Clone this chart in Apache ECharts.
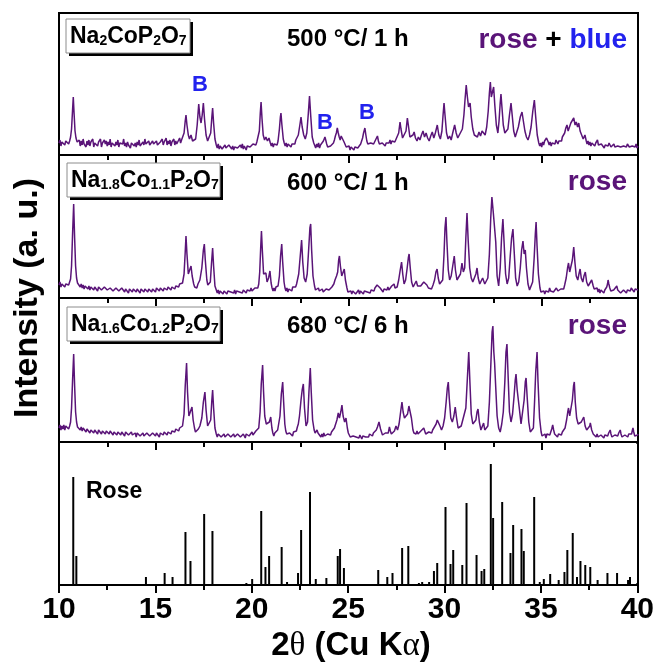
<!DOCTYPE html>
<html>
<head>
<meta charset="utf-8">
<script src="https://cdn.jsdelivr.net/npm/echarts@6/dist/echarts.min.js"></script>
<style>html,body{margin:0;padding:0;background:#fff;}#c{width:657px;height:667px;}</style>
</head>
<body>
<div id="c"></div>
<script>
// 2θ (deg), intensity (a.u.) pairs, flat: x,y,x,y,...
const pattern500 = [10.0,12,10.05,15,10.1,9,10.15,13,10.2,11,10.25,15,10.3,10,10.35,14,10.4,12,10.45,16,10.5,11,10.55,14,10.6,18,10.65,26,10.7,44,10.74,58,10.78,42,10.83,24,10.88,17,10.94,13,
11.0,12,11.05,15,11.1,9,11.15,14,11.2,10,11.25,16,11.3,11,11.35,13,11.4,8,11.45,14,11.5,10,11.55,15,11.6,9,11.65,13,11.7,11,11.75,16,11.8,8,11.85,12,11.9,10,11.95,14,12.0,9,12.05,13,12.1,11,12.15,16,12.2,8,12.25,12,12.3,10,12.35,15,12.4,11,12.45,14,12.5,9,12.55,13,12.6,10,12.65,16,12.7,8,12.75,12,12.8,11,12.85,14,12.9,9,12.95,13,13.0,10,13.05,15,13.1,8,13.15,12,13.2,10,13.25,14,13.3,11,13.35,16,13.4,9,13.45,12,13.5,8,13.55,13,13.6,10,13.65,11,13.7,7,13.75,12,13.8,10,13.85,14,13.9,9,13.95,12,14.0,8,14.05,13,14.1,10,14.15,15,14.2,9,14.25,11,14.3,8,14.35,13,14.4,10,14.45,16,14.5,11,14.55,13,14.6,9,14.65,14,14.7,10,14.75,12,14.8,8,14.85,14,14.9,11,14.95,13,15.0,9,15.05,14,15.1,10,15.15,12,15.2,8,15.25,13,15.3,11,15.35,16,15.4,10,15.45,13,15.5,12,15.55,17,15.6,10,15.65,14,15.7,11,15.75,15,15.8,9,15.85,13,15.9,12,15.95,16,16.0,10,16.05,14,16.1,11,16.15,13,16.2,12,16.25,17,16.3,12,16.35,15,16.4,16,
16.48,22,16.54,34,16.58,40,16.63,30,16.7,20,16.76,16,16.84,20,16.92,14,17.0,12,17.08,16,17.16,30,17.24,51,17.3,38,17.36,32,17.42,40,17.48,52,17.54,36,17.62,20,17.7,14,17.78,12,17.86,22,17.92,38,17.96,47,18.01,32,18.08,16,
18.15,10,18.2,7,18.25,11,18.3,6,18.35,9,18.4,11,18.45,6,18.5,8,18.55,5,18.6,10,18.65,7,18.7,9,18.75,5,18.8,10,18.85,8,18.9,11,18.95,6,19.0,9,19.05,5,19.1,8,19.15,6,19.2,10,19.25,7,19.3,9,19.35,5,19.4,10,19.45,7,19.5,11,19.55,6,19.6,9,19.65,7,19.7,5,19.75,9,19.8,7,19.85,11,19.9,8,19.95,10,20.0,7,20.05,11,20.1,9,20.15,12,20.2,10,20.25,13,20.3,14,
20.38,24,20.43,42,20.47,53,20.52,36,20.58,20,20.65,15,20.72,18,20.8,14,20.88,17,20.95,12,21.0,9,21.05,12,21.1,8,21.15,11,21.2,9,21.25,12,21.3,10,21.35,14,21.42,26,21.47,38,21.5,42,21.55,30,21.62,16,21.67,12,21.72,9,21.77,12,21.82,8,21.87,11,21.92,9,21.97,12,22.02,8,22.07,11,22.12,9,22.17,13,22.22,11,22.27,15,22.32,14,22.4,20,22.48,30,22.54,38,22.6,28,22.68,20,22.76,16,22.84,22,22.92,42,22.98,59,23.04,40,23.12,18,23.2,12,
23.25,10,23.3,7,23.35,11,23.4,8,23.45,12,23.5,7,23.55,10,23.6,9,23.65,12,23.7,14,23.74,16,23.78,18,23.82,15,23.87,11,23.92,8,23.97,10,24.02,6,24.07,9,24.12,7,24.17,11,24.22,12,24.27,15,24.32,19,24.37,22,24.42,27,24.47,22,24.52,18,24.57,15,24.62,19,24.67,21,24.72,17,24.77,13,24.82,11,24.88,8,24.93,10,24.98,6,25.03,9,25.08,5,25.13,8,25.18,6,25.23,9,25.28,5,25.33,8,25.38,6,25.43,10,25.48,7,25.53,9,25.58,8,25.63,11,25.68,13,25.73,17,25.78,22,25.85,27,25.9,20,25.95,14,26.0,11,26.05,13,26.1,9,26.15,12,26.2,10,26.25,14,26.3,11,26.35,13,26.4,15,26.45,17,26.5,19,26.55,14,26.6,11,26.65,13,26.7,9,26.75,12,26.8,10,26.85,13,26.9,9,26.95,12,27.0,14,27.05,10,27.1,12,27.15,15,27.2,11,27.25,14,27.3,12,27.35,16,27.4,13,27.45,15,27.5,12,
27.6,22,27.67,33,27.72,26,27.8,17,27.9,15,27.98,24,28.05,37,28.1,30,28.18,18,28.26,16,28.34,20,28.4,23,28.47,17,28.55,14,28.62,18,28.7,15,28.78,20,28.86,24,28.94,18,29.02,22,29.1,17,29.18,14,29.26,19,29.34,23,29.42,17,29.5,22,29.6,30,29.68,20,29.76,16,29.84,24,29.9,40,29.95,52,30.0,40,30.08,22,30.16,16,30.24,19,30.32,15,30.4,22,30.5,30,30.58,22,30.66,17,30.74,20,30.82,18,30.9,26,30.98,40,31.04,56,31.1,70,31.16,58,31.22,48,31.3,52,31.36,38,31.44,26,31.52,20,31.6,22,31.68,18,31.76,23,31.84,19,31.92,24,32.0,22,32.08,20,32.16,28,32.24,44,32.3,62,32.35,73,32.4,58,32.46,60,32.52,68,32.58,50,32.66,30,32.74,22,32.8,34,32.86,52,32.9,61,32.95,48,33.02,30,33.1,22,33.18,20,33.26,26,33.34,40,33.42,52,33.48,40,33.56,24,33.64,18,33.72,20,33.8,28,33.9,38,33.99,43,34.06,34,34.14,24,34.22,18,34.3,15,34.38,20,34.46,28,34.55,44,34.63,55,34.7,38,34.78,20,
34.86,12,34.91,9,34.96,12,35.01,8,35.06,13,35.11,10,35.16,14,35.21,12,35.26,17,35.3,18,35.35,13,35.4,10,35.45,13,35.5,9,35.55,12,35.6,10,35.65,14,35.7,11,35.75,15,35.8,13,35.85,11,35.9,14,35.95,12,36.0,16,36.04,14,36.08,18,
36.12,19,36.2,22,36.26,27,36.32,30,36.38,24,36.45,28,36.52,32,36.6,34,36.67,37,36.74,30,36.8,33,36.87,28,36.93,32,37.0,24,37.08,20,37.16,16,37.25,20,37.32,14,
37.36,11,37.41,14,37.46,10,37.51,13,37.56,9,37.61,12,37.66,10,37.71,14,37.76,9,37.81,12,37.86,11,37.9,15,37.95,10,38.0,12,38.05,8,38.1,11,38.15,9,38.2,12,38.25,7,38.3,10,38.35,8,38.4,11,38.45,9,38.5,12,38.55,13,38.6,8,38.65,10,38.7,7,38.75,11,38.8,8,38.85,10,38.9,6,38.95,9,39.0,7,39.05,11,39.1,8,39.15,10,39.2,6,39.25,9,39.3,7,39.35,10,39.4,8,39.45,11,39.5,12,39.55,8,39.6,10,39.65,6,39.7,9,39.75,7,39.8,10,39.85,8,39.9,11,39.95,7,40.0,9];

const pattern600 = [10.0,13,10.05,16,10.1,11,10.15,14,10.2,12,10.25,15,10.3,11,10.35,14,10.4,12,10.45,16,10.5,13,10.55,15,10.6,19,10.65,32,10.7,62,10.76,94,10.81,60,10.86,32,10.91,20,10.96,15,
11.0,13,11.05,15,11.1,11,11.15,14,11.2,10,11.25,13,11.3,9,11.35,12,11.4,10,11.45,14,11.5,9,11.55,12,11.6,8,11.65,11,11.7,10,11.75,13,11.8,8,11.85,11,11.9,9,11.95,12,12.0,7,12.05,11,12.1,9,12.15,13,12.2,8,12.25,10,12.3,7,12.35,11,12.4,9,12.45,12,12.5,8,12.55,10,12.6,6,12.65,10,12.7,8,12.75,11,12.8,7,12.85,9,12.9,6,12.95,10,13.0,8,13.05,11,13.1,7,13.15,9,13.2,6,13.25,10,13.3,8,13.35,11,13.4,6,13.45,9,13.5,7,13.55,10,13.6,5,13.65,9,13.7,7,13.75,10,13.8,6,13.85,9,13.9,8,13.95,11,14.0,6,14.05,9,14.1,7,14.15,10,14.2,5,14.25,9,14.3,7,14.35,10,14.4,6,14.45,9,14.5,8,14.55,11,14.6,6,14.65,9,14.7,7,14.75,10,14.8,6,14.85,9,14.9,7,14.95,10,15.0,6,15.05,10,15.1,8,15.15,11,15.2,7,15.25,10,15.3,8,15.35,11,15.4,7,15.45,10,15.5,9,15.55,12,15.6,8,15.65,11,15.7,9,15.75,12,15.8,8,15.85,11,15.9,10,15.95,13,16.0,9,16.05,12,16.1,10,16.15,13,16.2,11,16.25,14,16.3,12,16.35,15,16.4,15,
16.48,24,16.54,46,16.58,62,16.63,44,16.7,24,16.78,26,16.84,32,16.9,22,16.98,14,17.03,11,17.08,13,17.14,10,17.2,14,17.3,18,17.4,30,17.48,48,17.53,54,17.58,38,17.66,18,17.71,13,17.75,11,17.8,14,17.84,16,17.9,34,17.96,50,18.01,32,18.08,12,
18.15,8,18.2,5,18.25,8,18.3,4,18.35,7,18.4,5,18.45,8,18.5,4,18.55,7,18.6,5,18.65,8,18.7,4,18.75,7,18.8,5,18.85,8,18.9,6,18.95,4,19.0,7,19.05,5,19.1,8,19.15,4,19.2,7,19.25,5,19.3,8,19.35,6,19.4,4,19.45,7,19.5,5,19.55,8,19.6,6,19.65,9,19.7,5,19.75,8,19.8,6,19.85,9,19.9,7,19.95,10,20.0,7,20.05,9,20.1,6,20.15,10,20.2,8,20.25,11,20.3,10,
20.35,14,20.4,26,20.45,50,20.49,67,20.54,46,20.6,24,20.66,22,20.72,25,20.78,16,20.86,20,20.93,27,20.99,15,21.04,10,21.09,7,21.14,10,21.19,7,21.24,11,21.29,9,21.35,12,21.42,22,21.48,42,21.54,54,21.59,36,21.66,16,21.71,10,21.76,7,21.81,10,21.86,6,21.91,9,21.96,7,22.01,10,22.06,7,22.11,11,22.16,9,22.21,12,22.26,11,22.31,14,22.36,16,22.42,24,22.5,42,22.57,58,22.63,36,22.7,20,22.78,16,22.86,24,22.94,50,23.0,70,23.04,74,23.09,48,23.16,22,
23.24,12,23.29,8,23.34,10,23.39,6,23.44,10,23.49,7,23.54,9,23.59,5,23.64,9,23.69,6,23.74,8,23.79,5,23.84,9,23.89,7,23.94,11,23.99,8,24.04,10,24.09,7,24.14,11,24.19,9,24.24,14,
24.3,18,24.38,22,24.44,26,24.49,38,24.53,42,24.58,32,24.65,22,24.72,24,24.78,29,24.84,18,
24.92,10,24.97,6,25.02,8,25.07,5,25.12,7,25.17,4,25.22,7,25.27,5,25.32,8,25.37,4,25.42,6,25.47,5,25.52,8,25.57,4,25.62,7,25.67,5,25.72,8,25.77,4,25.82,7,25.87,5,25.92,8,25.97,6,26.02,4,26.07,7,26.12,5,26.17,8,26.22,6,26.27,9,26.32,7,26.37,10,26.42,11,
26.48,13,26.56,15,26.64,10,26.69,8,26.74,10,26.79,6,26.84,9,26.89,7,26.94,10,26.99,8,27.04,11,27.09,8,27.14,10,27.19,9,27.24,12,27.3,12,27.36,14,27.41,10,27.46,12,27.52,11,27.6,18,27.68,28,27.75,36,27.81,24,27.88,14,27.96,18,28.04,30,28.1,40,28.14,44,28.2,30,28.27,16,28.35,11,28.43,13,28.51,17,28.58,12,28.66,10,28.74,12,28.82,14,28.9,16,28.98,18,29.06,13,29.14,10,29.22,12,29.3,9,29.38,13,29.46,18,29.53,26,29.59,29,29.65,20,29.72,14,29.8,12,29.88,18,29.95,44,30.0,70,30.05,81,30.1,56,30.17,28,30.24,18,30.32,22,30.4,32,30.48,42,30.54,28,30.62,18,30.7,16,30.8,24,30.88,35,30.95,26,31.02,30,31.08,60,31.14,85,31.2,58,31.28,30,31.36,20,31.44,16,31.52,18,31.6,24,31.66,30,31.72,20,31.8,14,31.88,16,31.95,20,32.0,20,32.06,14,32.14,12,32.22,20,32.3,44,32.37,80,32.43,101,32.5,86,32.57,88,32.63,56,32.7,22,32.78,12,32.86,30,32.93,60,33.0,79,33.06,56,33.14,24,33.22,14,33.3,20,33.38,42,33.45,60,33.52,69,33.58,48,33.66,20,33.74,12,33.82,16,33.9,30,33.97,48,34.04,57,34.1,44,34.16,48,34.22,30,34.3,14,34.38,8,34.46,10,34.54,16,34.62,40,34.68,64,34.72,76,34.77,52,34.84,24,
34.92,10,34.97,6,35.02,8,35.07,5,35.12,7,35.17,4,35.22,7,35.27,5,35.32,8,35.37,6,35.42,10,35.47,7,35.52,5,35.57,8,35.62,6,35.67,4,35.72,8,35.77,10,35.8,11,35.85,7,35.9,9,35.95,6,36.0,9,36.05,7,36.1,10,36.15,9,36.2,13,
36.28,20,36.35,30,36.4,35,36.46,26,36.52,24,36.6,38,36.67,51,36.73,36,36.8,22,36.88,18,36.94,24,37.0,29,37.06,20,37.14,16,37.2,22,37.27,26,37.34,16,37.42,12,37.5,14,37.6,18,
37.68,12,37.73,9,37.78,11,37.83,8,37.88,10,37.93,6,37.98,9,38.03,5,38.08,8,38.13,6,38.18,9,38.23,5,38.28,8,38.33,7,38.38,11,38.42,14,38.45,18,38.49,14,38.54,10,38.59,7,38.64,9,38.69,5,38.74,8,38.79,6,38.84,9,38.9,12,38.95,8,39.0,6,39.05,8,39.1,5,39.15,7,39.2,5,39.25,8,39.3,6,39.35,9,39.4,5,39.45,8,39.5,6,39.55,9,39.6,7,39.65,10,39.7,11,39.75,8,39.8,6,39.85,9,39.9,7,39.95,10,40.0,8];

const pattern680 = [10.0,14,10.05,17,10.1,12,10.15,16,10.2,13,10.25,17,10.3,12,10.35,16,10.4,14,10.45,17,10.5,13,10.55,16,10.6,20,10.65,34,10.7,60,10.76,88,10.81,56,10.86,30,10.91,20,10.96,15,
11.0,14,11.05,17,11.1,12,11.15,15,11.2,11,11.25,14,11.3,12,11.35,15,11.4,10,11.45,13,11.5,11,11.55,14,11.6,9,11.65,12,11.7,11,11.75,14,11.8,9,11.85,12,11.9,10,11.95,13,12.0,8,12.05,12,12.1,10,12.15,13,12.2,8,12.25,11,12.3,9,12.35,13,12.4,8,12.45,11,12.5,9,12.55,12,12.6,8,12.65,11,12.7,9,12.75,13,12.8,7,12.85,10,12.9,8,12.95,11,13.0,7,13.05,10,13.1,8,13.15,12,13.2,7,13.25,10,13.3,8,13.35,11,13.4,6,13.45,10,13.5,8,13.55,11,13.6,7,13.65,9,13.7,6,13.75,10,13.8,7,13.85,9,13.9,6,13.95,9,14.0,5,14.05,9,14.1,7,14.15,10,14.2,6,14.25,8,14.3,5,14.35,9,14.4,6,14.45,8,14.5,5,14.55,9,14.6,7,14.65,10,14.7,6,14.75,8,14.8,5,14.85,9,14.9,7,14.95,10,15.0,6,15.05,9,15.1,7,15.15,10,15.2,5,15.25,9,15.3,7,15.35,11,15.4,7,15.45,10,15.5,8,15.55,11,15.6,7,15.65,10,15.7,9,15.75,12,15.8,8,15.85,11,15.9,9,15.95,12,16.0,10,16.05,13,16.1,11,16.15,14,16.2,11,16.25,14,16.3,13,16.35,16,16.4,16,
16.48,28,16.54,56,16.61,79,16.66,50,16.73,26,16.8,24,16.89,35,16.95,22,17.02,14,17.07,10,17.12,12,17.17,10,17.22,13,17.3,16,17.4,24,17.48,40,17.56,50,17.62,32,17.7,16,17.78,14,17.86,22,17.92,42,17.96,52,18.01,34,18.08,14,
18.15,8,18.2,5,18.25,8,18.3,6,18.35,9,18.4,5,18.45,7,18.5,4,18.55,8,18.6,5,18.65,7,18.7,4,18.75,8,18.8,6,18.85,9,18.9,5,18.95,7,19.0,4,19.05,8,19.1,5,19.15,7,19.2,4,19.25,8,19.3,6,19.35,9,19.4,5,19.45,7,19.5,5,19.55,8,19.6,6,19.65,4,19.7,8,19.75,6,19.8,9,19.85,6,19.9,8,19.95,7,20.0,10,20.05,7,20.1,9,20.15,8,20.2,11,20.25,9,20.3,12,20.35,14,
20.42,30,20.48,58,20.55,77,20.6,50,20.66,26,20.74,18,20.82,16,20.9,20,20.97,25,21.03,14,21.08,9,21.13,6,21.18,9,21.23,7,21.28,10,21.33,12,21.38,14,21.45,26,21.52,48,21.59,60,21.64,40,21.7,18,21.75,11,21.8,8,21.85,10,21.9,6,21.95,9,22.0,7,22.05,10,22.1,6,22.15,10,22.2,9,22.25,12,22.3,11,22.35,15,22.4,18,22.46,26,22.54,42,22.6,52,22.66,58,22.72,34,22.8,16,22.88,20,22.95,50,23.02,74,23.07,50,23.14,22,
23.22,12,23.27,9,23.32,11,23.37,12,23.42,9,23.47,7,23.52,9,23.57,5,23.62,8,23.67,5,23.72,9,23.77,6,23.82,8,23.87,5,23.92,8,23.97,6,24.02,9,24.07,7,24.12,10,24.17,8,24.22,12,24.27,14,24.32,16,
24.4,22,24.47,29,24.53,24,24.6,30,24.66,37,24.72,26,24.8,20,24.87,24,
24.94,14,24.99,9,25.04,7,25.09,5,25.14,7,25.19,4,25.24,6,25.29,4,25.34,7,25.39,5,25.44,3,25.49,6,25.54,4,25.59,7,25.64,5,25.69,3,25.74,6,25.79,4,25.84,7,25.89,5,25.94,3,25.99,6,26.04,5,26.09,8,26.14,6,26.19,9,26.24,6,26.29,9,26.34,8,26.39,10,26.44,12,
26.5,15,26.58,20,26.66,13,26.71,10,26.76,7,26.81,9,26.86,6,26.91,9,26.96,8,27.01,11,27.06,9,27.12,15,27.17,11,27.22,8,27.27,10,27.32,8,27.38,11,27.46,16,27.54,12,27.62,18,27.7,30,27.77,40,27.83,30,27.9,24,27.98,22,28.06,28,28.13,36,28.19,38,28.26,24,28.34,12,28.39,9,28.44,11,28.5,8,28.55,11,28.6,8,28.65,10,28.7,8,28.75,11,28.8,9,28.85,12,28.9,14,28.95,11,29.0,8,29.05,10,29.1,7,29.16,10,29.21,8,29.26,11,29.31,9,29.36,12,29.41,10,29.46,14,29.54,18,29.6,22,29.67,24,29.74,16,29.82,12,29.9,16,29.98,24,30.06,40,30.12,54,30.17,60,30.22,44,30.3,24,30.38,20,30.46,26,30.53,35,30.6,24,30.68,14,30.76,12,30.84,16,30.92,22,31.0,20,31.08,34,31.16,64,31.23,90,31.29,60,31.36,28,31.44,18,31.52,16,31.6,22,31.66,30,31.71,33,31.78,20,31.86,12,31.94,16,32.0,19,32.06,12,32.14,10,32.22,16,32.3,40,32.38,80,32.44,110,32.48,116,32.53,90,32.57,79,32.63,54,32.7,26,32.78,14,32.86,10,32.94,18,33.02,30,33.1,60,33.16,90,33.21,98,33.27,66,33.34,30,33.42,20,33.5,28,33.58,46,33.64,62,33.68,68,33.74,52,33.8,50,33.86,32,33.94,18,34.02,20,34.1,42,34.16,60,34.2,64,34.26,44,34.34,20,34.42,10,34.5,8,34.58,14,34.64,40,34.7,70,34.77,90,34.82,60,34.9,24,
34.98,10,35.03,6,35.08,8,35.13,5,35.18,8,35.23,4,35.28,8,35.33,6,35.38,9,35.43,7,35.48,10,35.53,13,35.58,17,35.63,12,35.68,8,35.73,6,35.78,9,35.83,5,35.88,8,35.93,6,35.98,9,36.03,7,36.08,10,36.13,8,36.18,11,36.22,14,
36.3,22,36.36,30,36.4,34,36.46,26,36.53,28,36.6,42,36.66,56,36.7,60,36.75,40,36.82,24,36.9,18,36.98,16,37.06,20,37.13,22,37.19,25,37.26,16,37.34,12,37.42,14,37.5,16,37.53,19,37.6,12,
37.68,8,37.73,6,37.78,9,37.83,5,37.88,8,37.93,5,37.98,7,38.03,4,38.08,7,38.13,5,38.18,8,38.23,4,38.28,7,38.33,5,38.38,8,38.43,6,38.48,9,38.53,10,38.56,12,38.6,8,38.65,5,38.7,7,38.75,4,38.8,7,38.85,5,38.9,8,38.95,6,39.0,9,39.04,10,39.08,12,39.12,8,39.17,5,39.22,7,39.27,4,39.32,7,39.37,5,39.42,8,39.47,5,39.52,8,39.57,6,39.62,9,39.67,8,39.7,11,39.74,14,39.78,10,39.83,6,39.88,8,39.93,5,39.98,7,40.0,8];

// Rose reference pattern: stick positions (2θ) and relative intensities
const roseStickPos = [10.74,10.9,14.51,15.48,15.89,16.56,16.82,17.53,17.96,19.72,20.02,20.49,20.71,20.9,21.55,21.83,22.4,22.56,23.02,23.32,23.87,24.46,24.58,24.78,26.56,27.03,27.3,27.8,28.12,28.67,28.84,29.2,29.45,29.62,30.05,30.31,30.45,30.92,31.14,31.66,31.92,32.06,32.4,32.52,32.99,33.42,33.56,33.99,34.11,34.65,34.94,35.15,35.48,35.92,36.22,36.37,36.65,36.87,37.05,37.3,37.56,37.94,38.45,38.95,39.52,39.62];
const roseStickInt = [108,29,8,12,8,53,24,71,54,2,6,74,18,29,38,3,12,55,93,6,7,29,36,17,15,8,12,37,39,2,3,3,14,22,78,21,35,20,82,30,14,16,121,67,83,32,60,56,34,88,3,6,11,5,13,35,52,8,24,20,18,5,12,12,5,8];

const xTickLabels = ['10','15','20','25','30','35','40'];

function pairs(flat){ const out=[]; for(let i=0;i+1<flat.length;i+=2) out.push([flat[i],flat[i+1]]); return out.sort((a,b)=>a[0]-b[0]); }

const PURPLE = '#5a1478';
const BLUE = '#2222ee';
const FONT = '"Liberation Sans", Arial, sans-serif';
const SERIF = '"Liberation Serif", "DejaVu Serif", serif';

const grids = [
  {left:59, width:579, top:13, height:142},
  {left:59, width:579, top:155, height:143},
  {left:59, width:579, top:298, height:144},
  {left:59, width:579, top:442, height:143}
];

const xAxes = grids.map((g,i)=>({
  gridIndex:i, type:'value', position:'bottom', min:10, max:40, interval:5,
  axisLine:{show:true, lineStyle:{color:'#000', width:2}},
  axisTick:{show:true, inside:false, length:8, lineStyle:{color:'#000', width:2}},
  minorTick:{show:true, splitNumber:2, length:5, lineStyle:{color:'#000', width:2}},
  splitLine:{show:false},
  axisLabel:{show: i===grids.length-1, color:'#000', fontSize:30, fontWeight:'bold', fontFamily:FONT, margin:10,
    formatter:(v)=>xTickLabels[Math.round((v-10)/5)] }
}));
const yAxes = grids.map((g,i)=>({gridIndex:i, type:'value', min:0, max:g.height, show:false}));

const series = [pattern500, pattern600, pattern680].map((p,i)=>({
  type:'line', xAxisIndex:i, yAxisIndex:i, data:pairs(p), showSymbol:false, symbol:'none',
  lineStyle:{color:PURPLE, width:1.5}, itemStyle:{color:PURPLE}, animation:false, silent:true
}));
series.push({
  type:'custom', xAxisIndex:3, yAxisIndex:3, clip:true,
  data: roseStickPos.map((x,i)=>[x, roseStickInt[i]]),
  encode:{x:0, y:1},
  renderItem:(params, api)=>{
    const b = api.coord([api.value(0), 0]);
    const t = api.coord([api.value(0), api.value(1)]);
    return {type:'rect', shape:{x:b[0]-1, y:t[1], width:2, height:b[1]-t[1]}, style:{fill:'#000'}};
  },
  animation:false, silent:true
});

function labelBox(x,y,w,h,text){
  return [
    {type:'rect', shape:{x:x+3,y:y+3,width:w,height:h}, style:{fill:'#000'}, z:10},
    {type:'rect', shape:{x:x,y:y,width:w,height:h}, style:{fill:'#fff', stroke:'#8c8c8c', lineWidth:1}, z:11},
    {type:'text', x:x+4, y:y+h/2+1, z:12, style:{text:text, verticalAlign:'middle', align:'left',
      rich:{ m:{fontSize:23, fontWeight:'bold', fontFamily:FONT, fill:'#000'},
             s:{fontSize:14, fontWeight:'bold', fontFamily:FONT, fill:'#000', verticalAlign:'bottom', padding:[9,0,0,0]} } }}
  ];
}
function txt(x,y,text,size,color,align){
  return {type:'text', x:x, y:y, z:12, style:{text:text, fontSize:size, fontWeight:'bold', fontFamily:FONT, fill:color, align:align||'left', verticalAlign:'middle'}};
}

const g3 = grids[3];
const graphic = [].concat(
  labelBox(66,19,124,34,'{m|Na}{s|2}{m|CoP}{s|2}{m|O}{s|7}'),
  labelBox(67,163,153,34,'{m|Na}{s|1.8}{m|Co}{s|1.1}{m|P}{s|2}{m|O}{s|7}'),
  labelBox(67,307,153,34,'{m|Na}{s|1.6}{m|Co}{s|1.2}{m|P}{s|2}{m|O}{s|7}'),
  [
    txt(287,39,'500 °C/ 1 h',24,'#000'),
    txt(287,183,'600 °C/ 1 h',24,'#000'),
    txt(287,326,'680 °C/ 6 h',24,'#000'),
    {type:'text', x:627, y:40, z:12, style:{text:'{p|rose }{k|+}{b| blue}', align:'right', verticalAlign:'middle',
      rich:{p:{fontSize:28,fontWeight:'bold',fontFamily:FONT,fill:PURPLE}, k:{fontSize:28,fontWeight:'bold',fontFamily:FONT,fill:'#000'}, b:{fontSize:28,fontWeight:'bold',fontFamily:FONT,fill:BLUE}}}},
    txt(627,182,'rose',28,PURPLE,'right'),
    txt(627,326,'rose',28,PURPLE,'right'),
    txt(200,85,'B',22,BLUE,'center'),
    txt(325,123,'B',22,BLUE,'center'),
    txt(367,113,'B',22,BLUE,'center'),
    txt(86,492,'Rose',23,'#000'),
    {type:'text', x:28, y:298, rotation:Math.PI/2, z:12, style:{text:'Intensity (a. u.)', fontSize:34, fontWeight:'bold', fontFamily:FONT, fill:'#000', align:'center', verticalAlign:'middle'}},
    {type:'text', x:351, y:646, z:12, style:{text:'{a|2}{g|θ}{a| (Cu K}{g|α}{a|)}', align:'center', verticalAlign:'middle',
      rich:{a:{fontSize:33, fontWeight:'bold', fontFamily:FONT, fill:'#000'}, g:{fontSize:33, fontWeight:'normal', fontFamily:SERIF, fill:'#000'}}}},
    // tidy the right frame edge of the bottom panel
    {type:'rect', z:100, shape:{x:g3.left+g3.width-4, y:g3.top+2, width:8, height:g3.height-4}, style:{fill:'#fff'}},
    {type:'rect', z:101, shape:{x:g3.left+g3.width-1, y:g3.top-1, width:2, height:g3.height+2}, style:{fill:'#000'}}
  ]
);

const chart = echarts.init(document.getElementById('c'), null, {renderer:'canvas'});
chart.setOption({
  animation:false,
  backgroundColor:'#fff',
  grid: grids.map(g=>Object.assign({show:true, borderColor:'#000', borderWidth:2, backgroundColor:'transparent'}, g)),
  xAxis: xAxes, yAxis: yAxes, series: series, graphic: graphic
});
</script>
</body>
</html>
